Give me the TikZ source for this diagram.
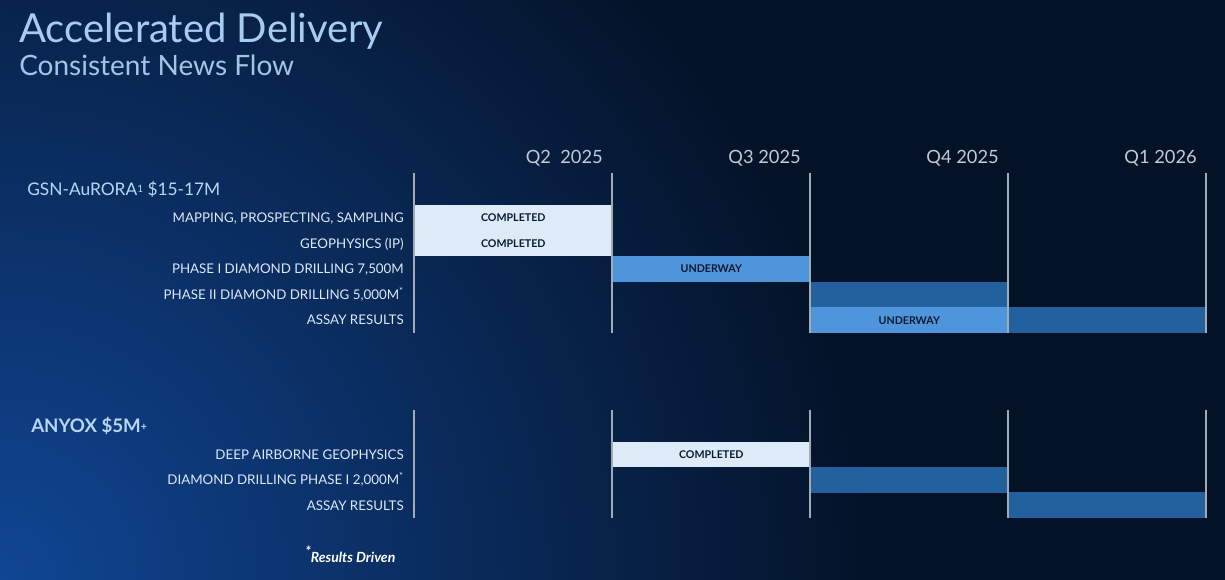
\documentclass[tikz,border=0pt]{standalone}
\usepackage{fontspec}
\setmainfont{Lato}
\definecolor{bgdark}{HTML}{041227}
\definecolor{bgblue}{HTML}{104694}
\definecolor{donefill}{HTML}{DDEAF7}
\definecolor{underfill}{HTML}{4F95DC}
\definecolor{planfill}{HTML}{22609E}
\definecolor{gridline}{HTML}{A4AAB2}
\definecolor{titleblue}{HTML}{A8CCF1}
\definecolor{labeltext}{HTML}{DDE8F7}
\definecolor{quartertext}{HTML}{C2CAD4}
\definecolor{bartext}{HTML}{0B1A30}
\tikzset{
    rowlabel/.style={anchor=base east, inner sep=0pt, text=labeltext, font=\fontsize{10}{12}\selectfont},
    quarter/.style={anchor=base east, inner sep=0pt, text=quartertext, font=\fontsize{13.7}{16}\selectfont},
    bar/.style={anchor=west, inner sep=0pt, minimum width=148.5pt, minimum height=19.2pt, text=bartext, font=\bfseries\fontsize{8}{9}\selectfont},
    donebar/.style={bar, fill=donefill},
    underbar/.style={bar, fill=underfill},
    planbar/.style={bar, fill=planfill},
    gridrule/.style={gridline, line width=1pt}
}
\begin{document}
\begin{tikzpicture}[x=0.75pt,y=-0.75pt]
    \useasboundingbox (0,0) rectangle (1225,580);
    % background
    \fill[bgdark] (0,0) rectangle (1225,580);
    \begin{scope}
        \clip (0,0) rectangle (1225,580);
        \shade[inner color=bgblue, outer color=bgdark] (0,580) circle (880);
    \end{scope}
    % titles
    \node[anchor=base west, inner sep=0pt, text=titleblue, font=\fontsize{30}{34}\selectfont] (title) at (19,43) {Accelerated Delivery};
    \node[anchor=base west, inner sep=0pt, text=titleblue!90!gray, font=\fontsize{21}{24}\selectfont] (subtitle) at (19,76) {Consistent News Flow};
    % quarters
    \foreach \q [count=\i] in {Q2\ \ 2025, Q3 2025, Q4 2025, Q1 2026}{
        \node[quarter] (q\i) at ({414+198*\i-9},164) {\q};
    }
    % GSN-AuRORA
    \node[anchor=base west, inner sep=0pt, text=titleblue!80!white, font=\fontsize{13}{15}\selectfont] (gsn) at (27,196) {GSN-AuRORA\raisebox{2.5pt}{\fontsize{7.5}{9}\selectfont1} \$15-17M};
    \foreach \lab [count=\i] in {{MAPPING, PROSPECTING, SAMPLING}, {GEOPHYSICS (IP)}, {PHASE I DIAMOND DRILLING 7,500M}, {PHASE II DIAMOND DRILLING 5,000M\textsuperscript{*}}, {ASSAY RESULTS}}{
        \node[rowlabel] (gl\i) at (404,{205+25.6*(\i-0.5)+4.8}) {\lab};
    }
    \node[donebar] (map) at (414,217.8) {COMPLETED};
    \node[donebar] (geo) at (414,243.4) {COMPLETED};
    \node[underbar] (ph1) at (612,269) {UNDERWAY};
    \node[planbar] (ph2) at (810,294.6) {};
    \node[underbar] (assay) at (810,320.2) {UNDERWAY};
    \node[planbar] (assayb) at (1008,320.2) {};
    % ANYOX
    \node[anchor=base west, inner sep=0pt, text=titleblue!80!white, font=\bfseries\fontsize{14}{16}\selectfont] (anyox) at (31,433) {ANYOX \$5M\raisebox{2pt}{\fontsize{8}{9}\selectfont+}};
    \foreach \lab [count=\i] in {DEEP AIRBORNE GEOPHYSICS, {DIAMOND DRILLING PHASE I 2,000M\textsuperscript{*}}, ASSAY RESULTS}{
        \node[rowlabel] (al\i) at (404,{442+25.3*(\i-0.5)+4.8}) {\lab};
    }
    \node[donebar] (dag) at (612,454.7) {COMPLETED};
    \node[planbar] (ddp) at (810,480) {};
    \node[planbar] (ares) at (1008,505.3) {};
    % grid
    \foreach \i in {0,...,4}{
        \draw[gridrule] ({414+198*\i},173) -- ({414+198*\i},333);
        \draw[gridrule] ({414+198*\i},410) -- ({414+198*\i},518);
    }
    % footnote
    \node[anchor=base west, inner sep=0pt, text=white, font=\bfseries\itshape\fontsize{10.5}{12}\selectfont] (note) at (305,563) {\raisebox{5pt}{*}Results Driven};
\end{tikzpicture}
\end{document}
